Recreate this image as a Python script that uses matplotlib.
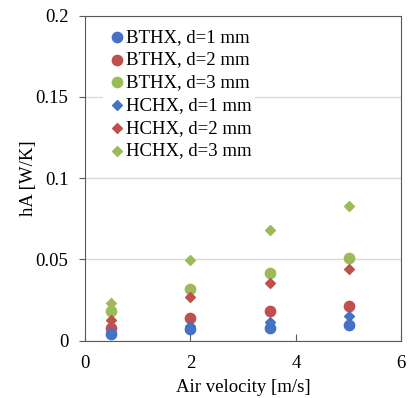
import numpy as np
import matplotlib
matplotlib.use('Agg')
import matplotlib.pyplot as plt

plt.rcParams['font.family'] = ['Liberation Serif', 'DejaVu Serif']

velocity = [0.5, 2.0, 3.5, 5.0]

bthx_d1 = [0.0043, 0.0070, 0.0080, 0.0095]
bthx_d2 = [0.0076, 0.0142, 0.0183, 0.0214]
bthx_d3 = [0.0180, 0.0320, 0.0418, 0.0506]
hchx_d1 = [0.0055, 0.0090, 0.0117, 0.0152]
hchx_d2 = [0.0130, 0.0270, 0.0356, 0.0442]
hchx_d3 = [0.0230, 0.0498, 0.0680, 0.0830]

blue = '#4472C4'
red = '#C0504D'
green = '#9BBB59'

fig = plt.figure(figsize=(4.15, 3.98), dpi=100)
ax = fig.add_axes([0.205, 0.144, 0.762, 0.817])

ax.scatter(velocity, bthx_d1, s=55, color=blue, marker='o', label='BTHX, d=1 mm', zorder=3)
ax.scatter(velocity, bthx_d2, s=55, color=red, marker='o', label='BTHX, d=2 mm', zorder=3)
ax.scatter(velocity, bthx_d3, s=55, color=green, marker='o', label='BTHX, d=3 mm', zorder=3)
ax.scatter(velocity, hchx_d1, s=25, color=blue, marker='D', label='HCHX, d=1 mm', zorder=3)
ax.scatter(velocity, hchx_d2, s=25, color=red, marker='D', label='HCHX, d=2 mm', zorder=3)
ax.scatter(velocity, hchx_d3, s=25, color=green, marker='D', label='HCHX, d=3 mm', zorder=3)

ax.set_xlim(0, 6)
ax.set_ylim(0, 0.2)
ax.set_xticks([0, 2, 4, 6])
ax.set_yticks([0, 0.05, 0.1, 0.15, 0.2])
ax.set_yticklabels(['0', '0.05', '0.1', '0.15', '0.2'])
ax.yaxis.grid(True, color='#d9d9d9', linewidth=1)
ax.set_axisbelow(True)
for sp in ax.spines.values():
    sp.set_color('#595959')
ax.tick_params(axis='x', direction='in', length=5, pad=10.5, colors='#595959', labelcolor='black', labelsize=13.5)
ax.tick_params(axis='y', direction='out', length=4, pad=8, colors='#595959', labelcolor='black', labelsize=13.5)

ax.set_xlabel('Air velocity [m/s]', fontsize=13.5, labelpad=4.5)
ax.set_ylabel('hA [W/K]', fontsize=13.5, labelpad=-1)

leg = ax.legend(loc='upper left', bbox_to_anchor=(0.026, 0.997), frameon=True, fontsize=13.5,
                handletextpad=-0.1, labelspacing=0.3, borderpad=0.15, handlelength=1.2)
leg.get_frame().set_edgecolor('none')
leg.get_frame().set_facecolor('white')
leg.get_frame().set_alpha(1)

fig.savefig('out.png', dpi=100)
